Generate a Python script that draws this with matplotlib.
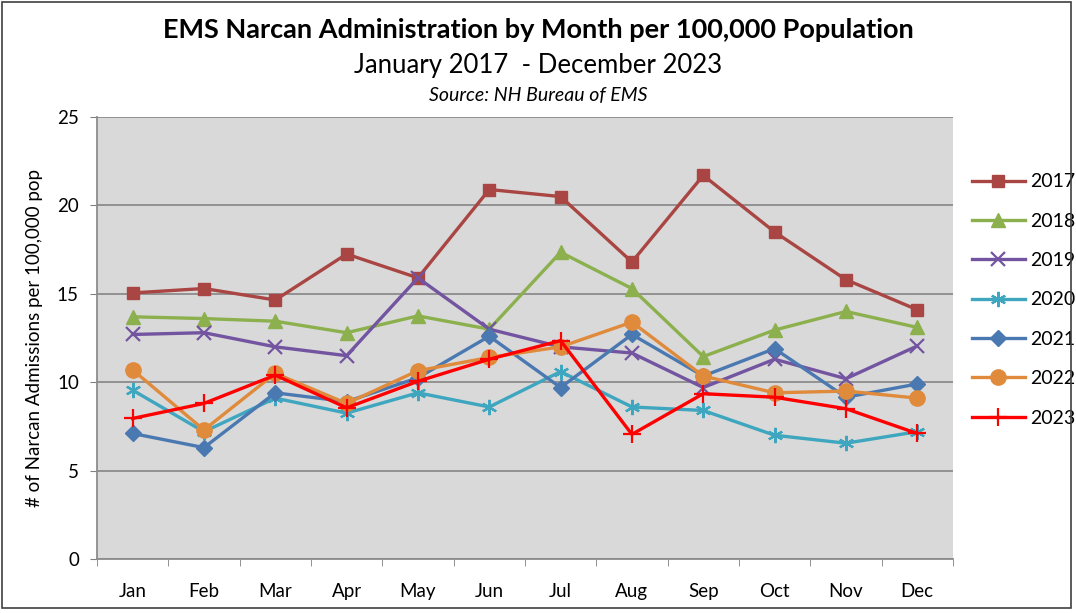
import numpy as np
import matplotlib.pyplot as plt
from matplotlib.patches import Rectangle

plt.rcParams['font.family'] = ['Lato', 'DejaVu Sans']

months = ['Jan', 'Feb', 'Mar', 'Apr', 'May', 'Jun', 'Jul', 'Aug', 'Sep', 'Oct', 'Nov', 'Dec']

y2017 = [15.05, 15.3, 14.65, 17.25, 15.9, 20.9, 20.5, 16.8, 21.7, 18.5, 15.8, 14.1]
y2018 = [13.7, 13.6, 13.45, 12.8, 13.75, 13.0, 17.35, 15.3, 11.45, 12.95, 14.0, 13.1]
y2019 = [12.7, 12.8, 12.0, 11.5, 15.9, 13.0, 12.0, 11.65, 9.7, 11.3, 10.2, 12.05]
y2020 = [9.55, 7.2, 9.1, 8.25, 9.4, 8.6, 10.6, 8.6, 8.4, 7.0, 6.55, 7.2]
y2021 = [7.1, 6.3, 9.4, 8.9, 10.25, 12.6, 9.7, 12.7, 10.35, 11.9, 9.15, 9.9]
y2022 = [10.7, 7.3, 10.5, 8.8, 10.65, 11.4, 12.0, 13.4, 10.35, 9.4, 9.5, 9.1]
y2023 = [7.95, 8.8, 10.4, 8.55, 10.05, 11.3, 12.35, 7.05, 9.35, 9.15, 8.5, 7.1]

series = [
    ('2017', y2017, '#a94542', 's', 9),
    ('2018', y2018, '#8cb04d', '^', 10),
    ('2019', y2019, '#7354a0', 'x', 10),
    ('2020', y2020, '#3ea6bf', (6, 2, 0), 11),
    ('2021', y2021, '#4a79b1', 'D', 8),
    ('2022', y2022, '#e08a3c', 'o', 11),
    ('2023', y2023, '#ff0000', '+', 13),
]

fig = plt.figure(figsize=(10.76, 6.13), dpi=100)
fig.patches.append(Rectangle((0.002, 0.008), 0.993, 0.988, transform=fig.transFigure,
                             fill=False, edgecolor='#404040', linewidth=1.2))

ax = fig.add_axes([0.0901, 0.0881, 0.7955, 0.7210])
ax.set_facecolor('#d9d9d9')

x = np.arange(len(months))
for name, vals, color, marker, ms in series:
    mew = 1.6 if marker in ('x', '+', (6, 2, 0)) else 1
    ax.plot(x, vals, color=color, marker=marker, markersize=ms, linewidth=2.4,
            markeredgewidth=mew, label=name)

ax.set_xlim(-0.5, 11.5)
ax.set_ylim(0, 25)
ax.set_yticks([0, 5, 10, 15, 20, 25])
ax.set_xticks(x)
ax.set_xticklabels(months)
ax.set_xticks(np.arange(-0.5, 12, 1), minor=True)
ax.tick_params(axis='x', which='major', length=0, pad=17, labelsize=13.5)
ax.tick_params(axis='x', which='minor', length=5, color='#808080')
ax.tick_params(axis='y', length=5, color='#808080', labelsize=13.5, pad=8)
ax.grid(axis='y', color='#8c8c8c', linewidth=1.3)
ax.set_axisbelow(True)
for s in ['top', 'right']:
    ax.spines[s].set_visible(False)
for s in ['left', 'bottom']:
    ax.spines[s].set_color('#8c8c8c')
    ax.spines[s].set_linewidth(1.3)

ax.set_ylabel('# of Narcan Admissions per 100,000 pop', fontsize=13.5, labelpad=10)

fig.text(0.5, 0.951, 'EMS Narcan Administration by Month per 100,000 Population',
         ha='center', va='center', fontsize=19.5, fontweight='bold')
fig.text(0.5, 0.893, 'January 2017  - December 2023', ha='center', va='center', fontsize=18.5)
fig.text(0.5, 0.845, 'Source: NH Bureau of EMS', ha='center', va='center', fontsize=14,
         style='italic')

ax.legend(loc='upper left', bbox_to_anchor=(1.002, 0.912), frameon=False, fontsize=14,
          handlelength=2.7, labelspacing=1.15, handletextpad=0.3)

fig.savefig('out.png', dpi=100)
